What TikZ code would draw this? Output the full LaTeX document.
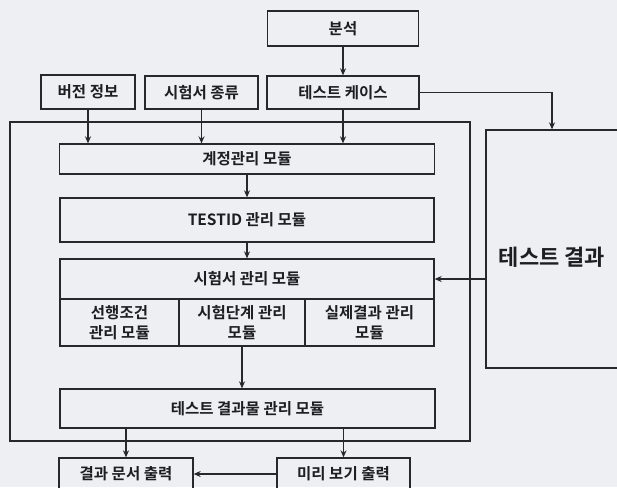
\documentclass[tikz,border=0pt]{standalone}
\usepackage{fontspec}
\setmainfont{Noto Sans CJK KR}[BoldFont={* Bold}]
\newfontfamily\krb{Noto Sans CJK KR Bold}
\usetikzlibrary{arrows.meta}
\definecolor{bgc}{RGB}{238,239,243}
\definecolor{linec}{RGB}{40,40,44}
\definecolor{txtc}{RGB}{30,30,34}
\begin{document}
\begin{tikzpicture}[x=1pt,y=-1pt,
  lbl/.style={font=\krb\fontsize{15.5}{20}\selectfont, text=txtc},
  box/.style={draw=linec, line width=1.3pt, inner sep=0pt, align=center, lbl},
  arr/.style={draw=linec, line width=1.3pt, -{Stealth[length=7pt,width=6pt]}}]
\useasboundingbox (0,0) rectangle (617,487);
\clip (0,0) rectangle (617,487);
\fill[bgc] (0,0) rectangle (617,487);
% outer frame
\node[draw=linec, line width=1.3pt, inner sep=0pt, minimum width=460pt, minimum height=319pt] (outer) at (240,281.5) {};
% top boxes
\node[box, minimum width=151pt, minimum height=35pt] (ana) at (343,28.5) {분석};
\node[box, minimum width=94pt, minimum height=34pt] (ver) at (88,92) {버전 정보};
\node[box, minimum width=113pt, minimum height=33pt] (kind) at (201.5,92.5) {시험서 종류};
\node[box, minimum width=152pt, minimum height=33pt] (tc) at (343,92.5) {테스트 케이스};
% modules
\node[box, minimum width=375pt, minimum height=30pt] (acc) at (247,159) {계정관리 모듈};
\node[box, minimum width=374pt, minimum height=44pt] (tid) at (247,220) {TESTID 관리 모듈};
\node[box, minimum width=374pt, minimum height=40pt] (smain) at (247,279) {시험서 관리 모듈};
\node[box, minimum width=119pt, minimum height=47pt] (sub1) at (119.5,322.5) {선행조건\\관리 모듈};
\node[box, minimum width=126pt, minimum height=47pt] (sub2) at (242,322.5) {시험단계 관리\\모듈};
\node[box, minimum width=129pt, minimum height=47pt] (sub3) at (369.5,322.5) {실제결과 관리\\모듈};
\node[box, minimum width=375pt, minimum height=39pt] (res) at (247.5,408.5) {테스트 결과물 관리 모듈};
% bottom boxes
\node[box, minimum width=134pt, minimum height=38pt] (doc) at (126,477) {};
\node[lbl] (doct) at (126,474) {결과 문서 출력};
\node[box, minimum width=133pt, minimum height=38pt] (prev) at (343.5,477) {};
\node[lbl] (prevt) at (343.5,474) {미리 보기 출력};
% test result box
\node[draw=linec, line width=1.3pt, inner sep=0pt, minimum width=154pt, minimum height=238pt] (tr) at (563,249) {};
\node[font=\krb\fontsize{22}{26}\selectfont, text=txtc] (trt) at (552,257) {테스트 결과};
% arrows
\draw[arr] (ana.south) -- (tc.north);
\draw[arr] (ver.south) -- (ver.south |- acc.north);
\draw[arr] (kind.south) -- (kind.south |- acc.north);
\draw[arr] (tc.south) -- (tc.south |- acc.north);
\draw[arr] (tc.east) -| (trt.north |- tr.north);
\draw[arr] (tid.north |- acc.south) -- (tid.north);
\draw[arr] (tid.south) -- (smain.north);
\draw[arr] (sub2.south) -- (sub2.south |- res.north);
\draw[arr] (smain.east -| tr.west) -- (smain.east);
\draw[arr] (doc.north |- res.south) -- (doc.north);
\draw[arr] (prev.north |- res.south) -- (prev.north);
\draw[arr] (prevt.west -| prev.west) -- (prevt.west -| doc.east);
\end{tikzpicture}
\end{document}
